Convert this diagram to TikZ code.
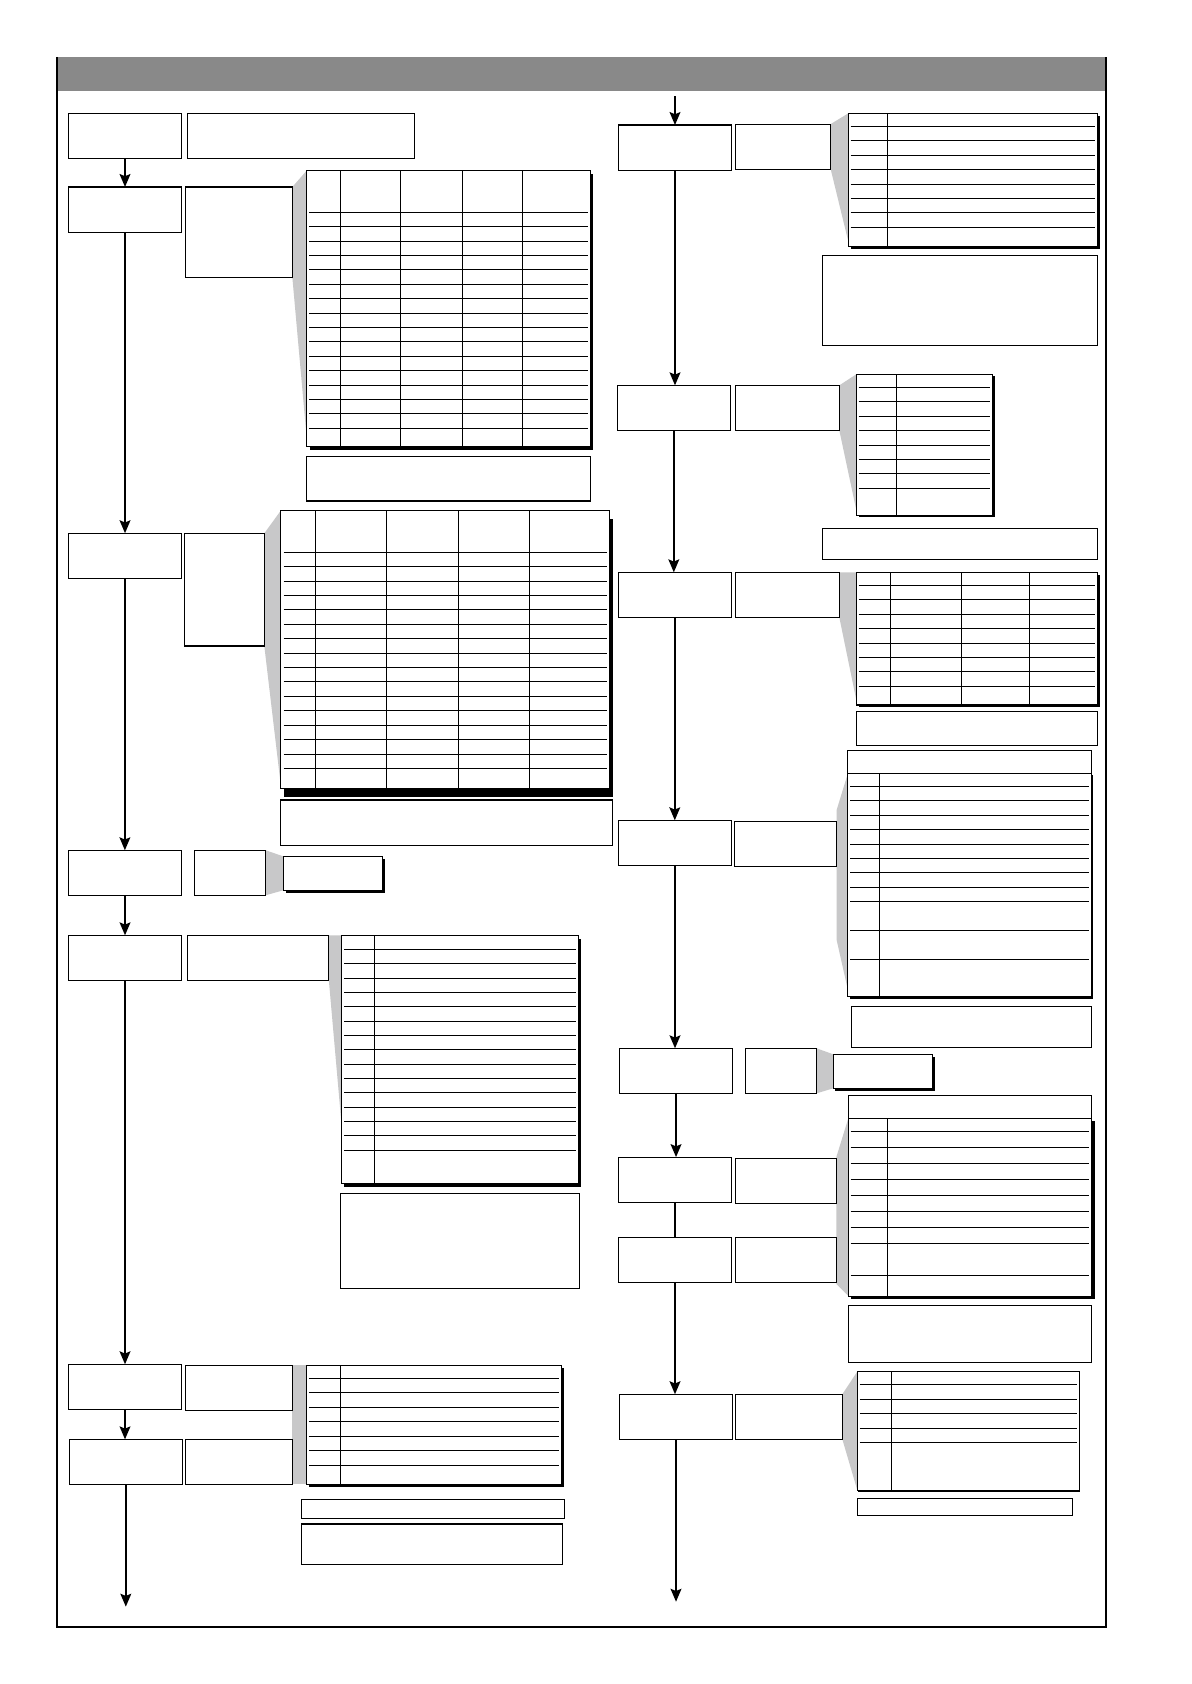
\documentclass[tikz,border=0pt]{standalone}
\usetikzlibrary{arrows.meta}
\pgfdeclarelayer{background}
\pgfsetlayers{background,main}
\definecolor{bandgray}{RGB}{137,137,137}
\definecolor{calloutgray}{RGB}{200,200,201}
% x/y/width/height/name, y going down the page
\def\mainSteps{63.7/105.5/105.4/41.9/L1, 63.7/174.1/105.4/42.2/L2, 63.5/496.5/105.6/42/L3, 63.5/791.7/105.8/41.9/L4, 63.5/870.9/105.8/41.9/L5, 63.5/1270.3/105.8/41.9/L6, 64.5/1340.2/105.3/41.8/L7, 575.7/116.4/105.6/42.2/R1, 574.8/358.8/105.2/41.9/R2, 575.7/532.9/105.2/41.9/R3, 575.7/763.8/105.6/41.9/R4, 576.7/976.1/105.5/41.9/R5, 575.7/1077.4/105.6/42.2/R6, 575.7/1151.9/105.6/42.2/R7, 576.7/1298.2/105.5/41.9/R8}
\def\sideSteps{174.5/105.5/211.3/41.9/S1, 172.7/174.1/99.5/84.1/S2, 172/496.6/74.1/104.9/S3, 180.9/791.7/66.5/41.9/S4, 174.6/870.9/131.6/41.9/S5, 172.5/1271.2/99.8/41.9/S6, 172.5/1340.2/99.8/41.8/S7, 684.7/115.5/88.8/42.2/SR1, 684.7/358.8/96.8/41.9/SR2, 684.7/532.9/96.8/41.9/SR3, 683.7/764.7/95.3/41.9/SR4, 694/976.1/66.4/41.9/SR5, 684.7/1078.4/94/42.3/SR6, 684.7/1152/94/42.2/SR7, 684.7/1298.2/99.6/41.9/SR8}
\def\notes{285.5/425/264/41.5/N1, 261.6/744.9/308.9/42.2/N2, 316.9/1111/222.8/89/N3, 280.6/1396/245.1/18/N4a, 280.6/1419/243/37.5/N4b, 765.7/237.7/256.3/83.8/NR1, 765.7/492/256.3/28.8/NR2, 797.3/662.6/224.7/31.4/NR3, 792.7/937/223.8/38.1/NR4, 789.9/1215.5/226.6/53.1/NR5, 798.3/1395/200.5/16/NR6, 789.5/698.6/227/21.4/TR4t, 789.9/1019.9/226.6/21.3/TR5t}
% x/y/width/height/shadow dx/shadow dy/name
\def\tables{285.5/158.9/263.9/257/3.1/3.1/T1, 261.6/475.2/305.8/258.8/3.1/7.7/T2, 317.9/870.9/220.8/230.9/2.3/3.7/T3, 285.3/1271.2/237.3/110.8/2.7/2.2/T4, 263.6/797.3/92.4/31.7/2.3/2.5/B4, 789.9/105.5/232.1/123.6/2.2/2.8/TR1, 797.3/348.5/126.7/131.3/2.2/1.9/TR2, 797.3/532.9/224.7/123.5/2.2/2.2/TR3, 789.5/720/227/208/1.5/1.9/TR4, 789.9/1041.2/226.6/165.6/2.8/3/TR5, 798.3/1277/206.7/110.7/1/1.5/TR6, 775.9/981.7/92.5/31.6/1.9/2.2/B5}
\def\connectLeft{L1/L2, L2/L3, L3/L4, L4/L5, L5/L6, L6/L7}
\def\connectRight{R1/R2, R2/R3, R3/R4, R4/R5, R5/R6, R7/R8}
\tikzstyle{main box}=[draw, line width=1pt, fill=white, anchor=north west, inner sep=0pt, outer sep=0pt]
\tikzstyle{table box}=[main box]
\tikzstyle{grid line}=[draw, line width=0.9pt]
\tikzstyle{table shadow}=[fill=black]
\tikzstyle{callout}=[fill=calloutgray]
\tikzstyle{flow}=[draw, line width=1.9pt, -{Stealth[length=12pt,width=10pt,inset=2pt]}]
\tikzstyle{frame line}=[draw, line width=1.6pt]

\begin{document}
\begin{tikzpicture}[x=1pt, y=-1pt]
  \useasboundingbox (0,0) rectangle (1109,1568);

  \begin{pgfonlayer}{background}
    \fill[white] (0,0) rectangle (1109,1568);
  \end{pgfonlayer}

  % The frame and its title band
  \fill[bandgray] (53,53) rectangle (1029.5,84.5);
  \path[frame line] (53,53) -- (53,1514.7) -- (1029.5,1514.7) -- (1029.5,53);

  % The steps and what stands beside them
  \foreach \px/\py/\w/\h/\name in \mainSteps {
    \node[main box, minimum width=\w pt, minimum height=\h pt] (\name) at (\px,\py) {};
  }
  \foreach \px/\py/\w/\h/\name in \sideSteps {
    \node[main box, minimum width=\w pt, minimum height=\h pt] (\name) at (\px,\py) {};
  }
  \foreach \px/\py/\w/\h/\name in \notes {
    \node[main box, minimum width=\w pt, minimum height=\h pt] (\name) at (\px,\py) {};
  }

  % The tables, each with its shadow
  \foreach \px/\py/\w/\h/\dx/\dy/\name in \tables {
    \fill[table shadow] (\px+\dx,\py+\dy) rectangle ++(\w,\h);
    \node[table box, minimum width=\w pt, minimum height=\h pt] (\name) at (\px,\py) {};
  }

  % Rows of the tables
  \foreach \xa/\xb/\first/\gap/\last in {288/547.3/197.7/13.41/15, 264/565.2/514.3/13.41/15, 320.3/536.5/883.9/13.37/14, 287.7/520.4/1283.3/13.5/6, 792/1019.5/117.6/13.44/7, 799.5/921.8/360.6/13.44/7, 799.5/1019.8/545/13.44/7}
    \foreach \i in {0,...,\last}
      \path[grid line] (\xa,\first+\gap*\i) -- (\xb,\first+\gap*\i);
  \foreach \r in {732.1, 745.2, 759.1, 772.2, 786.1, 799.2, 812.2, 826.2, 839.2, 866.2, 893.2}
    \path[grid line] (791.5,\r) -- (1014.3,\r);
  \foreach \r in {1053.4, 1068.0, 1083.0, 1097.9, 1112.9, 1127.9, 1142.9, 1157.5, 1187.5}
    \path[grid line] (792,\r) -- (1014.3,\r);
  \foreach \r in {1288.9, 1302.9, 1315.9, 1329.8, 1343.1}
    \path[grid line] (800.5,\r) -- (1002.8,\r);

  % Columns of the tables
  \foreach \c/\top/\bot in {316.9/158.9/415.9, 372.8/158.9/415.9, 430.5/158.9/415.9, 486.3/158.9/415.9, 293.6/475.2/734, 359.7/475.2/734, 426.8/475.2/734, 492.9/475.2/734, 348.5/870.9/1101.8, 316.8/1271.2/1382, 826.2/105.5/229.1, 834.6/348.5/479.8, 829/532.9/656.4, 895.1/532.9/656.4, 958.4/532.9/656.4, 818.7/720/928, 826.2/1041.2/1206.8, 829.9/1277/1387.7}
    \path[grid line] (\c,\top) -- (\c,\bot);

  % Grey call-outs from the side boxes to their tables
  \begin{pgfonlayer}{background}
    \fill[callout] (S2.north east) -- (T1.north west) -- (285.5,407) -- (S2.south east) -- cycle;
    \fill[callout] (S3.north east) -- (T2.north west) -- (261.6,732.5) -- (S3.south east) -- cycle;
    \fill[callout] (S4.north east) -- (B4.north west) -- (B4.south west) -- (S4.south east) -- cycle;
    \fill[callout] (S5.north east) -- (T3.north west) -- (317.9,1045.9) -- (S5.south east) -- cycle;
    \fill[callout] (S6.north east) -- (T4.north west) -- (T4.south west) -- (S7.south east) -- cycle;
    \fill[callout] (SR1.north east) -- (TR1.north west) -- (789.9,225) -- (SR1.south east) -- cycle;
    \fill[callout] (SR2.north east) -- (TR2.north west) -- (797.3,474.9) -- (SR2.south east) -- cycle;
    \fill[callout] (SR3.north east) -- (TR3.north west) -- (797.3,651.8) -- (SR3.south east) -- cycle;
    \fill[callout] (TR4.north west) -- (779,754.2) -- (779,875.2) -- (789.5,921.8) -- cycle;
    \fill[callout] (SR5.north east) -- (B5.north west) -- (B5.south west) -- (SR5.south east) -- cycle;
    \fill[callout] (TR5.north west) -- (778.7,1077.4) -- (778.7,1195.4) -- (789.9,1206.8) -- cycle;
    \fill[callout] (TR6.north west) -- (SR8.north east) -- (SR8.south east) -- (TR6.south west) -- cycle;
  \end{pgfonlayer}

  % The flow down both columns
  \coordinate (right start) at (628.5,89.4);
  \coordinate (left end) at (117.15,1496);
  \coordinate (right end) at (629.45,1491.4);
  \path[flow] (right start) -- (R1.north);
  \foreach \source/\dest in \connectLeft
    \path[flow] (\source.south) -- (\source.south |- \dest.north);
  \foreach \source/\dest in \connectRight
    \path[flow] (\source.south) -- (\source.south |- \dest.north);
  \path[draw, line width=1.9pt] (R6.south) -- (R6.south |- R7.north);
  \path[flow] (L7.south) -- (left end);
  \path[flow] (R8.south) -- (right end);

\end{tikzpicture}
\end{document}
